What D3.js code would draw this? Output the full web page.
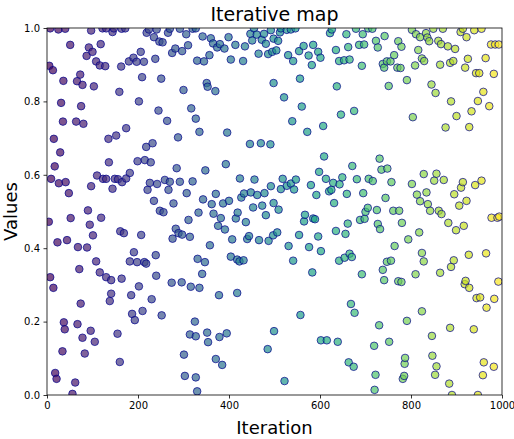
<!DOCTYPE html>
<html>
<head>
<meta charset="utf-8">
<script src="https://cdn.jsdelivr.net/npm/d3@7"></script>
<style>
  html, body { margin: 0; padding: 0; background: #fff; }
  svg { display: block; font-family: "DejaVu Sans", sans-serif; }
</style>
</head>
<body>
<svg id="chart" width="514" height="439"></svg>
<script>
// Iteration index of each sample
const iterations = [
  7,25,40,97,122,130,144,147,164,51,92,100,118,87,108,116,128,163,5,13,
  73,36,66,78,103,159,31,75,35,64,80,174,15,135,152,29,17,136,9,26,
  41,48,97,110,123,130,144,149,156,165,90,
  4,52,94,119,101,161,169,23,44,68,88,108,71,116,130,141,164,7,14,141,
  138,74,37,39,67,96,78,105,155,34,83,160,18,21,62,56,
  172,224,219,241,270,266,292,320,306,235,247,254,310,282,275,297,206,190,180,197,
  213,238,330,209,251,300,202,245,317,327,264,335,288,232,218,199,215,228,285,182,
  174,226,242,259,270,292,320,221,267,307,235,278,248,256,333,
  311,207,283,289,297,276,314,191,182,198,214,218,239,331,240,202,185,230,274,296,
  316,335,187,193,210,252,325,314,327,301,303,327,330,
  327,342,360,365,374,380,390,399,414,435,455,447,461,477,492,472,451,481,498,465,
  486,495,357,345,404,431,351,353,370,498,396,446,470,491,393,348,424,456,492,371,
  343,362,387,400,427,433,448,462,478,498,453,473,419,366,
  382,415,481,376,391,437,358,407,440,444,466,487,497,347,404,418,423,432,341,378,
  418,352,354,379,395,499,485,371,385,
  514,512,527,536,546,508,504,530,541,554,564,575,585,596,601,582,622,626,658,635,
  662,642,653,665,556,521,560,637,646,539,572,607,609,598,613,629,649,643,518,547,
  514,527,536,543,580,620,625,592,659,509,631,567,
  565,585,589,661,506,531,554,576,596,602,541,583,635,656,642,654,665,668,557,602,
  615,639,663,522,
  679,706,715,694,742,802,811,820,772,779,686,697,723,727,763,816,824,829,692,738,
  747,755,741,770,777,809,791,751,675,804,731,671,735,748,681,707,716,757,802,695,
  813,744,820,705,700,725,761,774,828,
  698,688,727,732,780,818,794,764,670,747,756,824,828,738,692,741,772,779,810,676,
  824,730,791,719,752,674,787,786,722,785,782,720,
  849,870,914,909,939,955,833,836,840,860,866,881,897,922,864,886,893,925,919,964,
  943,950,982,976,985,993,845,854,888,959,947,972,933,900,876,928,856,851,872,914,
  910,941,955,834,895,837,922,906,842,861,867,
  882,899,916,977,990,994,894,888,927,965,864,920,918,928,944,952,983,966,992,886,
  938,846,847,856,853,960,982,958,884,890,947
];

// Value of the map at each of those iterations
const values = [
  0.999,0.996,0.998,0.993,0.999,0.999,0.989,0.999,0.998,0.954,0.947,0.935,0.956,0.924,0.909,0.898,0.896,0.895,0.897,0.885,
  0.873,0.856,0.855,0.845,0.841,0.826,0.796,0.787,0.745,0.745,0.739,0.727,0.698,0.698,0.707,0.661,0.623,0.634,0.589,0.577,
  0.580,0.550,0.569,0.598,0.589,0.589,0.562,0.589,0.588,0.580,0.503,
  0.472,0.482,0.464,0.483,0.435,0.446,0.441,0.416,0.422,0.403,0.402,0.364,0.343,0.334,0.321,0.313,0.317,0.321,0.292,0.276,
  0.256,0.249,0.198,0.179,0.193,0.175,0.156,0.145,0.167,0.119,0.113,0.090,0.060,0.044,0.034,0.003,
  0.999,0.996,0.987,0.996,0.998,0.987,0.998,0.998,0.983,0.975,0.963,0.961,0.953,0.944,0.932,0.937,0.935,0.919,0.909,0.908,
  0.908,0.916,0.911,0.866,0.862,0.831,0.800,0.775,0.781,0.753,0.747,0.717,0.702,0.686,0.676,0.637,0.640,0.634,0.618,0.605,
  0.590,0.578,0.575,0.586,0.581,0.581,0.582,0.559,0.559,0.550,0.529,0.522,0.502,0.498,0.497,
  0.477,0.436,0.453,0.441,0.437,0.426,0.431,0.389,0.364,0.362,0.362,0.358,0.381,0.371,0.325,0.296,0.272,0.261,0.306,0.307,
  0.295,0.292,0.221,0.204,0.229,0.217,0.200,0.165,0.160,0.110,0.052,0.048,0.010,
  0.999,0.977,0.972,0.958,0.947,0.956,0.944,0.975,0.954,0.950,0.999,0.984,0.982,0.984,0.994,0.968,0.966,0.957,0.971,0.930,
  0.929,0.935,0.926,0.909,0.914,0.910,0.850,0.840,0.828,0.850,0.715,0.684,0.686,0.683,0.629,0.612,0.590,0.587,0.569,0.548,
  0.533,0.520,0.522,0.529,0.538,0.549,0.552,0.545,0.550,0.523,0.511,0.516,0.497,0.494,
  0.482,0.481,0.490,0.461,0.451,0.471,0.408,0.424,0.425,0.433,0.422,0.420,0.435,0.362,0.377,0.369,0.364,0.367,0.330,0.272,
  0.278,0.170,0.144,0.158,0.168,0.174,0.125,0.098,0.082,
  0.999,0.988,0.995,0.996,0.999,0.965,0.939,0.926,0.910,0.937,0.951,0.925,0.954,0.935,0.919,0.899,0.986,0.996,0.983,0.940,
  0.948,0.910,0.912,0.914,0.862,0.811,0.786,0.841,0.764,0.746,0.717,0.733,0.650,0.608,0.589,0.578,0.593,0.574,0.589,0.587,
  0.561,0.570,0.576,0.560,0.572,0.555,0.559,0.545,0.548,0.505,0.523,0.491,
  0.473,0.481,0.479,0.467,0.443,0.406,0.436,0.403,0.432,0.392,0.366,0.334,0.447,0.439,0.366,0.374,0.385,0.248,0.218,0.149,
  0.149,0.145,0.089,0.038,
  0.998,0.999,0.998,0.983,0.978,0.995,0.983,0.975,0.964,0.949,0.954,0.955,0.965,0.947,0.926,0.940,0.917,0.910,0.897,0.902,
  0.909,0.909,0.892,0.892,0.891,0.898,0.858,0.842,0.774,0.757,0.644,0.624,0.614,0.617,0.588,0.589,0.583,0.580,0.575,0.550,
  0.546,0.537,0.528,0.510,0.499,0.504,0.502,0.502,0.602,
  0.480,0.477,0.466,0.452,0.469,0.443,0.424,0.406,0.376,0.363,0.366,0.387,0.364,0.341,0.329,0.313,0.310,0.308,0.329,0.224,
  0.228,0.190,0.202,0.134,0.145,0.077,0.101,0.085,0.055,0.052,0.044,0.014,
  0.998,0.998,0.998,0.989,0.994,0.998,0.986,0.974,0.964,0.965,0.956,0.950,0.943,0.975,0.900,0.905,0.910,0.916,0.892,0.918,
  0.877,0.877,0.875,0.955,0.955,0.955,0.846,0.823,0.800,0.826,0.801,0.787,0.773,0.760,0.729,0.730,0.603,0.584,0.586,0.580,
  0.565,0.572,0.584,0.552,0.547,0.520,0.529,0.516,0.502,0.502,0.493,
  0.469,0.449,0.461,0.483,0.483,0.486,0.367,0.349,0.382,0.386,0.333,0.311,0.302,0.292,0.264,0.266,0.262,0.238,0.309,0.183,
  0.179,0.161,0.107,0.078,0.055,0.089,0.077,0.054,0.031,0.000,0.000
];

const xTicks = [0, 200, 400, 600, 800, 1000];
const yTicks = [0.0, 0.2, 0.4, 0.6, 0.8, 1.0];

const chartTitle = "Iterative map";
const xLabel = "Iteration";
const yLabel = "Values";

const points = iterations.map((it, i) => ({ it, v: values[i] }))
  .sort((a, b) => a.it - b.it);

const margin = { top: 28, right: 12, bottom: 44, left: 47 };
const width = 514, height = 439;
const svg = d3.select("#chart");

const x = d3.scaleLinear().domain([0, 1000]).range([margin.left, width - margin.right]);
const y = d3.scaleLinear().domain([0, 1]).range([height - margin.bottom, margin.top]);
const color = d3.scaleSequential(d3.interpolateViridis).domain([0, 1000]);

svg.append("defs").append("clipPath").attr("id", "plot-clip")
  .append("rect")
  .attr("x", x(0)).attr("y", y(1))
  .attr("width", x(1000) - x(0)).attr("height", y(0) - y(1));

// scatter markers
svg.append("g").attr("clip-path", "url(#plot-clip)")
  .selectAll("circle").data(points).join("circle")
  .attr("cx", d => x(d.it))
  .attr("cy", d => y(d.v))
  .attr("r", 3.8)
  .attr("fill", d => color(d.it))
  .attr("fill-opacity", 0.7)
  .attr("stroke", "darkblue")
  .attr("stroke-opacity", 0.7)
  .attr("stroke-width", 1);

// axes
const xAxis = svg.append("g")
  .attr("transform", `translate(0,${y(0)})`)
  .call(d3.axisBottom(x).tickValues(xTicks).tickFormat(d3.format("d")).tickSizeInner(3.5).tickSizeOuter(0).tickPadding(3.5));
const yAxis = svg.append("g")
  .attr("transform", `translate(${x(0)},0)`)
  .call(d3.axisLeft(y).tickValues(yTicks).tickFormat(d3.format(".1f")).tickSizeInner(3.5).tickSizeOuter(0).tickPadding(3.5));

[xAxis, yAxis].forEach(g => {
  g.select(".domain").remove();
  g.selectAll("text").attr("font-size", 10).attr("fill", "#000").attr("font-family", "DejaVu Sans, sans-serif");
  g.selectAll("line").attr("stroke", "#000").attr("stroke-width", 0.8);
});

// frame around the plotting area
svg.append("rect")
  .attr("x", x(0)).attr("y", y(1))
  .attr("width", x(1000) - x(0)).attr("height", y(0) - y(1))
  .attr("fill", "none").attr("stroke", "#000").attr("stroke-width", 0.8);

svg.append("text")
  .attr("x", (x(0) + x(1000)) / 2).attr("y", 21)
  .attr("text-anchor", "middle").attr("font-size", 19)
  .text(chartTitle);

svg.append("text")
  .attr("x", (x(0) + x(1000)) / 2).attr("y", 434)
  .attr("text-anchor", "middle").attr("font-size", 18)
  .text(xLabel);

svg.append("text")
  .attr("transform", `translate(17,${(y(0) + y(1)) / 2}) rotate(-90)`)
  .attr("text-anchor", "middle").attr("font-size", 18)
  .text(yLabel);
</script>
</body>
</html>
